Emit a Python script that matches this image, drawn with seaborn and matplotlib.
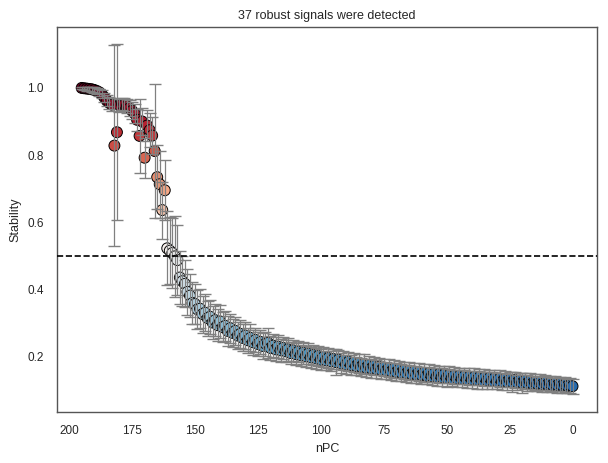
import numpy as np
import pandas as pd
import matplotlib
matplotlib.use("Agg")
import matplotlib.pyplot as plt
import seaborn as sns

sns.set_theme(style="white")
plt.rcParams['font.family'] = ['Liberation Sans', 'DejaVu Sans']

# nPC values, left to right on the plot (axis is inverted)
npc = np.arange(195, -1, -1)

# stability, same order as npc
stability = [
    1.000, 0.999, 0.998, 0.997, 0.996, 0.994, 0.991, 0.987, 0.981, 0.972,
    0.962, 0.955, 0.950, 0.828, 0.868, 0.948, 0.952, 0.951, 0.946, 0.940,
    0.932, 0.924, 0.905, 0.857, 0.900, 0.792, 0.888, 0.874, 0.858, 0.812,
    0.734, 0.713, 0.636, 0.695, 0.522, 0.515, 0.508, 0.498, 0.487, 0.435,
    0.424, 0.416, 0.392, 0.381, 0.359, 0.356, 0.340, 0.342, 0.326, 0.330,
    0.314, 0.318, 0.301, 0.308, 0.293, 0.304, 0.287, 0.291, 0.276, 0.284,
    0.270, 0.276, 0.262, 0.267, 0.255, 0.262, 0.248, 0.255, 0.242, 0.249,
    0.237, 0.243, 0.231, 0.238, 0.240, 0.225, 0.232, 0.221, 0.229, 0.218,
    0.225, 0.215, 0.221, 0.210, 0.218, 0.207, 0.214, 0.203, 0.211, 0.200,
    0.208, 0.197, 0.204, 0.194, 0.201, 0.190, 0.198, 0.188, 0.195, 0.185,
    0.192, 0.183, 0.190, 0.179, 0.187, 0.176, 0.184, 0.174, 0.181, 0.171,
    0.179, 0.169, 0.177, 0.166, 0.174, 0.164, 0.171, 0.162, 0.169, 0.159,
    0.167, 0.157, 0.165, 0.155, 0.163, 0.153, 0.160, 0.151, 0.158, 0.149,
    0.157, 0.147, 0.155, 0.145, 0.153, 0.144, 0.151, 0.142, 0.150, 0.141,
    0.149, 0.139, 0.147, 0.138, 0.146, 0.136, 0.145, 0.135, 0.143, 0.134,
    0.142, 0.133, 0.141, 0.132, 0.140, 0.131, 0.139, 0.130, 0.138, 0.129,
    0.137, 0.128, 0.136, 0.127, 0.135, 0.126, 0.134, 0.125, 0.133, 0.124,
    0.131, 0.123, 0.130, 0.122, 0.128, 0.121, 0.127, 0.120, 0.126, 0.119,
    0.124, 0.118, 0.123, 0.117, 0.121, 0.116, 0.120, 0.115, 0.119, 0.114,
    0.118, 0.113, 0.116, 0.112, 0.114, 0.111,
]

# half width of the error bars
errors = [
    0.004, 0.005, 0.006, 0.006, 0.007, 0.008, 0.009, 0.010, 0.012, 0.014,
    0.016, 0.018, 0.020, 0.300, 0.262, 0.020, 0.018, 0.020, 0.022, 0.024,
    0.026, 0.028, 0.032, 0.110, 0.040, 0.060, 0.045, 0.050, 0.055, 0.200,
    0.095, 0.100, 0.085, 0.090, 0.110, 0.100, 0.105, 0.120, 0.105, 0.080,
    0.075, 0.070, 0.068, 0.065, 0.062, 0.060, 0.058, 0.058, 0.055, 0.055,
    0.052, 0.050, 0.050, 0.048, 0.047, 0.050, 0.045, 0.044, 0.044, 0.043,
    0.042, 0.042, 0.040, 0.041, 0.040, 0.039, 0.038, 0.040, 0.038, 0.037,
    0.037, 0.036, 0.038, 0.036, 0.045, 0.035, 0.035, 0.036, 0.034, 0.034,
    0.034, 0.033, 0.035, 0.033, 0.032, 0.034, 0.032, 0.031, 0.033, 0.032,
    0.031, 0.032, 0.030, 0.031, 0.030, 0.032, 0.030, 0.029, 0.031, 0.030,
    0.030, 0.038, 0.029, 0.030, 0.028, 0.029, 0.028, 0.030, 0.028, 0.027,
    0.028, 0.027, 0.029, 0.027, 0.026, 0.028, 0.026, 0.027, 0.026, 0.025,
    0.026, 0.025, 0.027, 0.025, 0.026, 0.026, 0.025, 0.025, 0.026, 0.025,
    0.027, 0.025, 0.026, 0.025, 0.026, 0.025, 0.026, 0.025, 0.027, 0.025,
    0.025, 0.026, 0.025, 0.026, 0.025, 0.026, 0.025, 0.024, 0.026, 0.025,
    0.024, 0.025, 0.024, 0.025, 0.024, 0.024, 0.025, 0.026, 0.024, 0.025,
    0.024, 0.025, 0.024, 0.025, 0.024, 0.023, 0.024, 0.025, 0.023, 0.024,
    0.023, 0.030, 0.024, 0.023, 0.023, 0.030, 0.024, 0.023, 0.024, 0.023,
    0.023, 0.022, 0.023, 0.024, 0.022, 0.023, 0.022, 0.022, 0.023, 0.022,
    0.022, 0.023, 0.022, 0.022, 0.023, 0.022,
]

df = pd.DataFrame({"nPC": npc, "Stability": stability, "err": errors})
n_robust = int((df["Stability"] > 0.5).sum())

fig, ax = plt.subplots(figsize=(6.08, 4.63), dpi=100)

sns.scatterplot(data=df, x="nPC", y="Stability", hue="Stability", palette="RdBu_r",
                hue_norm=(0, 1), edgecolor='black', linewidth=0.7, s=62,
                legend=False, ax=ax, zorder=1)
# bars drawn over the markers
ax.errorbar(df["nPC"], df["Stability"], yerr=df["err"], fmt='none', ecolor='grey',
            elinewidth=0.9, capsize=4, capthick=1.0, zorder=2)

ax.axhline(0.5, color='black', linestyle='--', linewidth=1.2, zorder=3)

ax.set_xlim(204.75, -9.75)
ax.set_ylim(0.034, 1.182)
ax.set_xticks([200, 175, 150, 125, 100, 75, 50, 25, 0])
ax.set_yticks([0.2, 0.4, 0.6, 0.8, 1.0])
ax.tick_params(labelsize=8.5)
for spine in ax.spines.values():
    spine.set_color('#555555')
    spine.set_linewidth(1.0)
ax.set_xlabel("nPC", fontsize=9)
ax.set_ylabel("Stability", fontsize=9)
ax.set_title(f"{n_robust} robust signals were detected", fontsize=9)

plt.subplots_adjust(left=0.094, right=0.982, top=0.942, bottom=0.110)
plt.savefig("out.png", dpi=100)
